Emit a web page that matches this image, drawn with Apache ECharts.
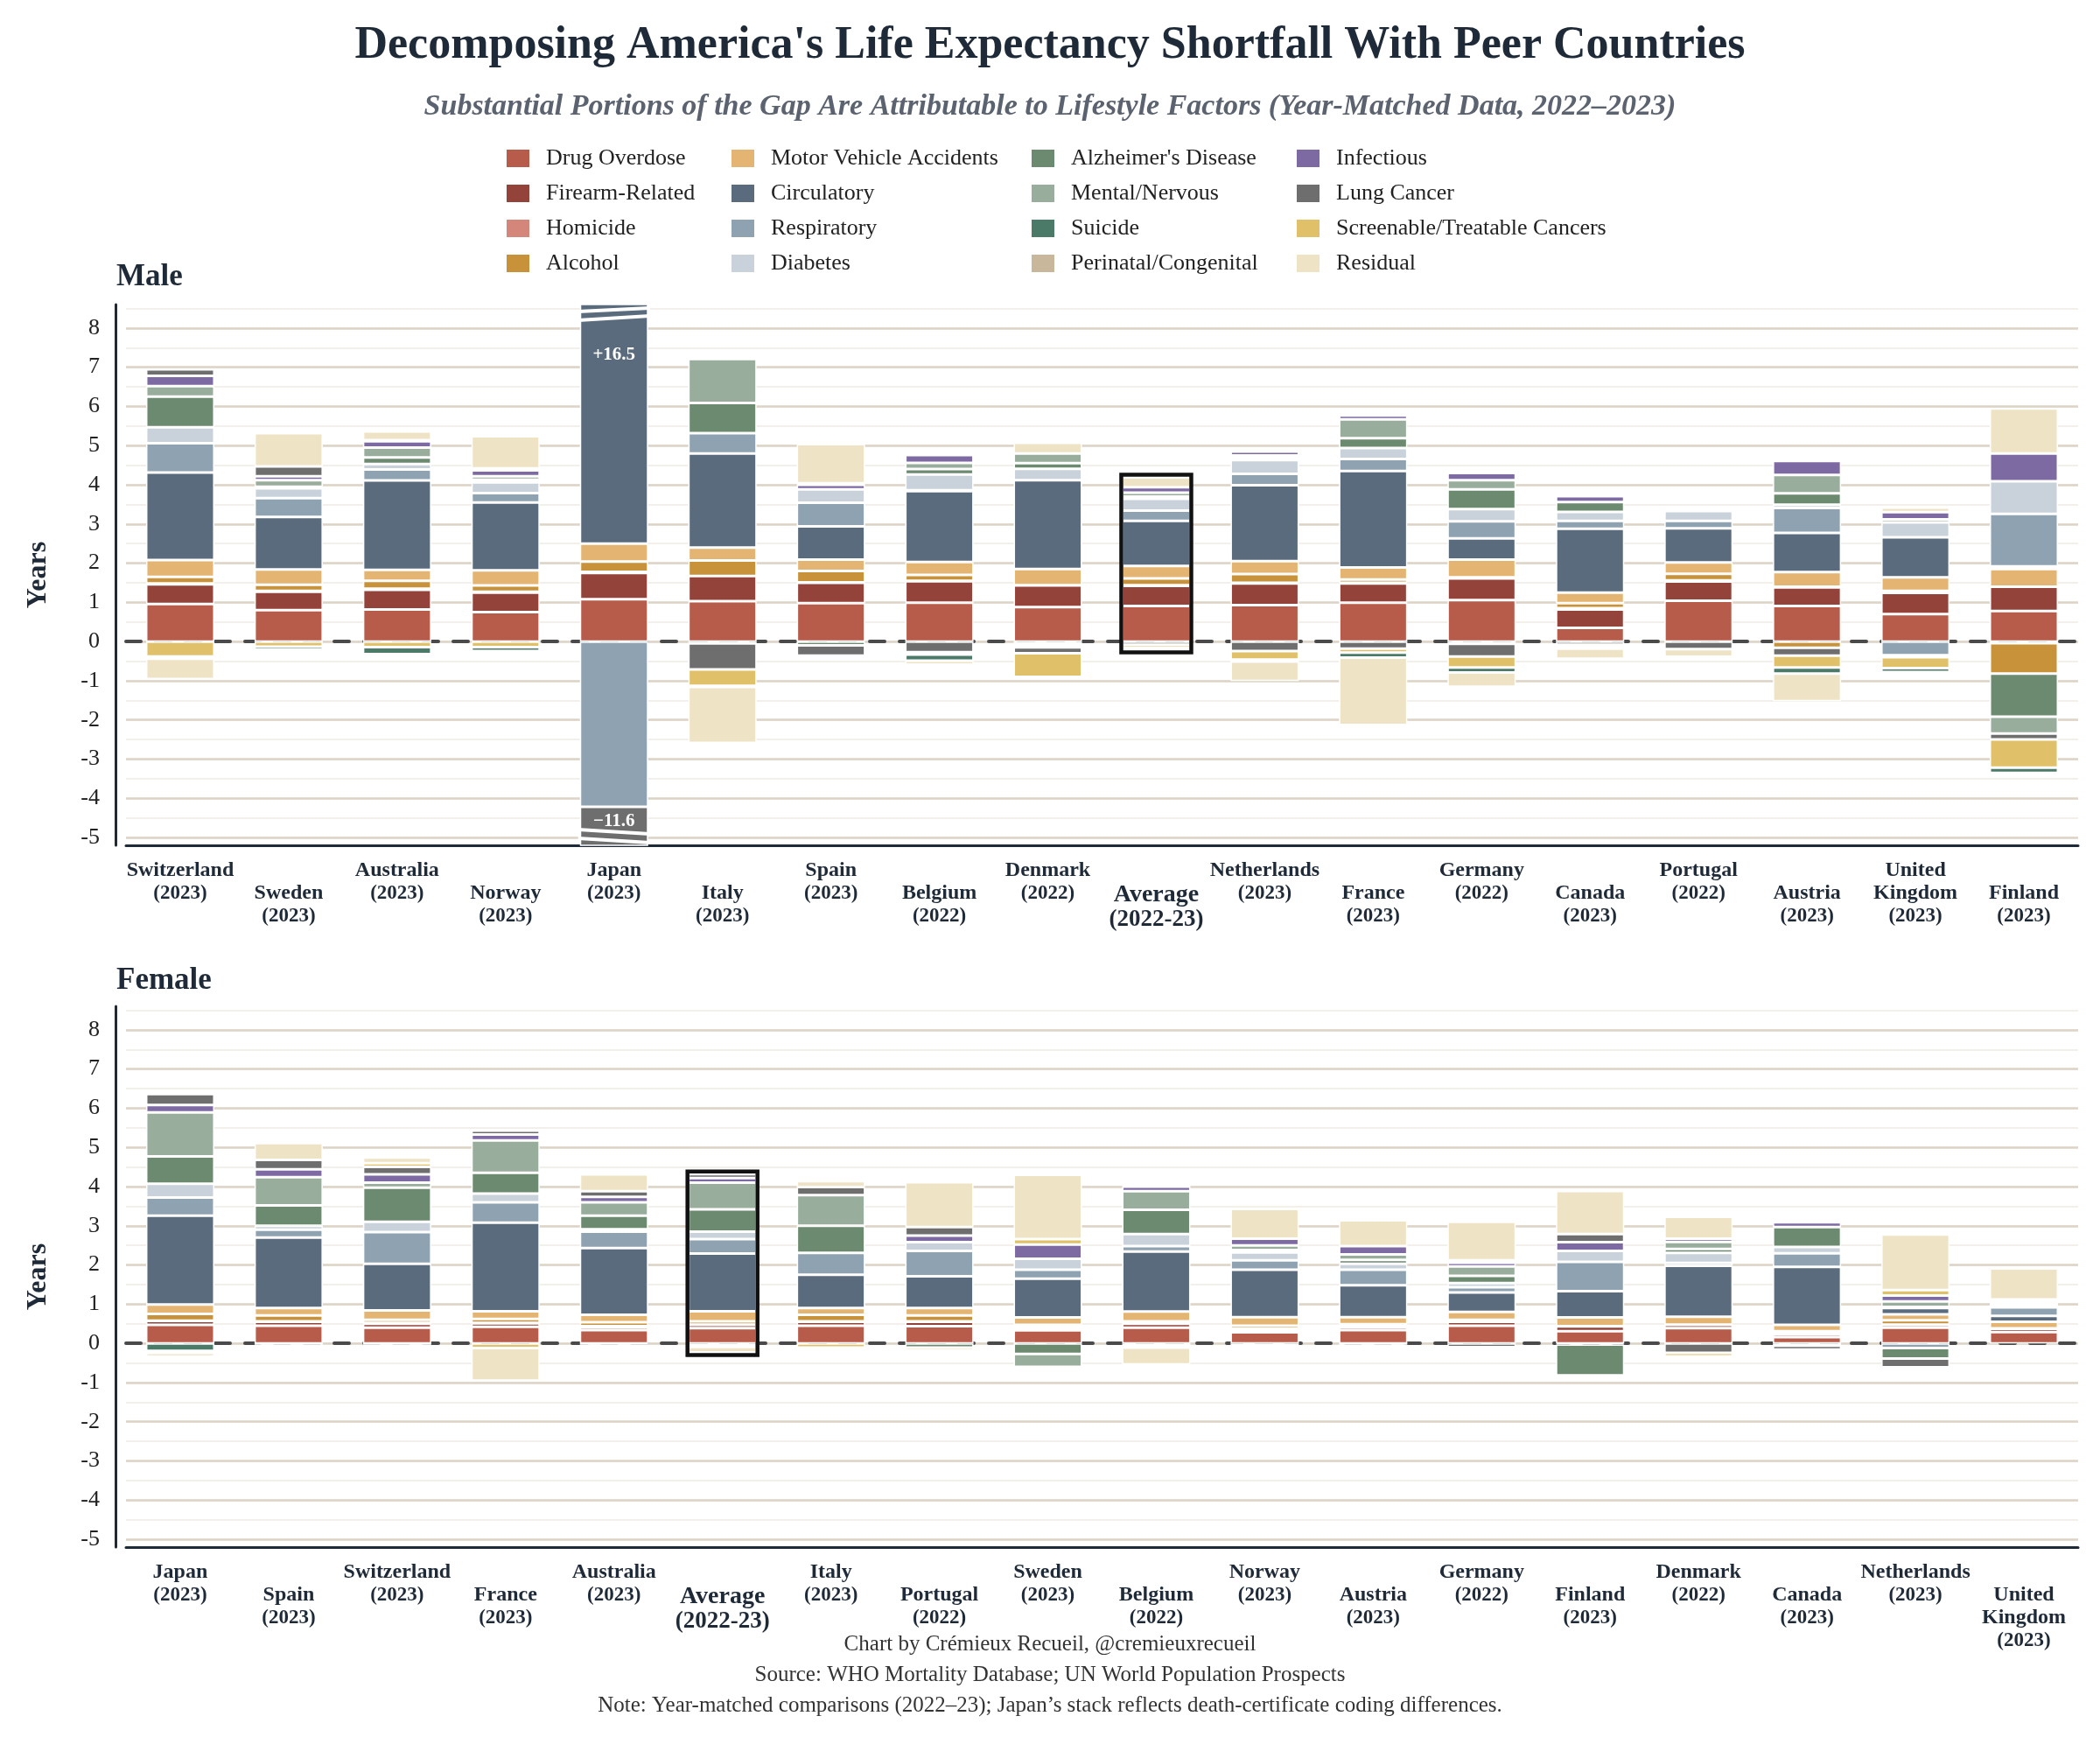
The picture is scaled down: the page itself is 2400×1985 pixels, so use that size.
<!DOCTYPE html>
<html>
<head>
<meta charset="utf-8">
<script src="https://cdn.jsdelivr.net/npm/echarts@6/dist/echarts.min.js"></script>
<style>
  html, body { margin: 0; padding: 0; background: #fff; }
  #chart { width: 2400px; height: 1985px; }
</style>
</head>
<body>
<div id="chart"></div>
<script>
// causes, in stacking order (bottom of each stack first)
var causes = ['Drug Overdose', 'Firearm-Related', 'Homicide', 'Alcohol', 'Motor Vehicle Accidents',
  'Circulatory', 'Respiratory', 'Diabetes', "Alzheimer's Disease", 'Mental/Nervous', 'Infectious',
  'Lung Cancer', 'Screenable/Treatable Cancers', 'Suicide', 'Perinatal/Congenital', 'Residual'];

// legend columns as printed
var legendCols = [
  ['Drug Overdose', 'Firearm-Related', 'Homicide', 'Alcohol'],
  ['Motor Vehicle Accidents', 'Circulatory', 'Respiratory', 'Diabetes'],
  ["Alzheimer's Disease", 'Mental/Nervous', 'Suicide', 'Perinatal/Congenital'],
  ['Infectious', 'Lung Cancer', 'Screenable/Treatable Cancers', 'Residual']
];

// male panel
var maleCountries = ['Switzerland', 'Sweden', 'Australia', 'Norway', 'Japan', 'Italy', 'Spain', 'Belgium', 'Denmark',
  'Average', 'Netherlands', 'France', 'Germany', 'Canada', 'Portugal', 'Austria', 'United Kingdom', 'Finland'];
var maleYears = ['2023', '2023', '2023', '2023', '2023', '2023', '2023', '2022', '2022',
  '2022-23', '2023', '2023', '2022', '2023', '2022', '2023', '2023', '2023'];

// years of gap per cause, same order as causes
var mSwitzerland = [0.96, 0.50, 0.02, 0.17, 0.43, 2.23, 0.75, 0.41, 0.78, 0.27, 0.26, 0.17, -0.38, -0.06, 0, -0.52];
var mSweden      = [0.80, 0.47, 0.02, 0.16, 0.39, 1.34, 0.48, 0.25, 0.04, 0.17, 0.10, 0.25, -0.13, -0.08, 0, 0.85];
var mAustralia   = [0.82, 0.50, 0.03, 0.20, 0.28, 2.28, 0.28, 0.14, 0.17, 0.25, 0.16, 0.03, -0.14, -0.18, 0, 0.22];
var mNorway      = [0.75, 0.50, 0.02, 0.16, 0.39, 1.73, 0.24, 0.27, 0.07, 0.09, 0.15, 0.05, -0.14, -0.10, 0, 0.82];
var mJapan       = [1.08, 0.67, 0.03, 0.26, 0.46, 14.00, -4.22, 0, 0, 0, 0, -7.00, 0, -0.38, 0, 0];
var mItaly       = [1.03, 0.64, -0.05, 0.40, 0.33, 2.40, 0.52, 0, 0.77, 1.12, 0, -0.66, -0.42, -0.03, 0, -1.43];
var mSpain       = [0.98, 0.52, 0.01, 0.29, 0.29, 0.85, 0.60, 0.34, -0.10, 0, 0.12, -0.26, 0.04, 0, 0, 1.00];
var mBelgium     = [0.99, 0.55, 0.01, 0.15, 0.33, 1.81, 0.02, 0.40, 0.14, 0.16, 0.20, -0.27, -0.06, -0.16, 0, -0.10];
var mDenmark     = [0.88, 0.55, 0.01, -0.05, 0.41, 2.27, -0.06, 0.29, 0.14, 0.25, -0.04, -0.15, -0.60, -0.03, 0, 0.27];
var mAverage     = [0.91, 0.51, 0.02, 0.17, 0.32, 1.15, 0.26, 0.30, 0.06, 0.10, 0.14, -0.08, -0.08, -0.05, 0, 0.25];
var mNetherlands = [0.93, 0.55, 0.02, 0.22, 0.33, 1.94, 0.29, 0.35, 0.07, 0.05, 0.10, -0.24, -0.22, -0.05, 0, -0.50];
var mFrance      = [0.99, 0.49, 0.02, 0.08, 0.31, 2.46, 0.31, 0.28, 0.25, 0.48, 0.10, -0.18, -0.10, -0.13, 0, -1.72];
var mGermany     = [1.06, 0.55, 0.03, -0.06, 0.45, 0.54, 0.44, 0.31, 0.50, 0.24, 0.18, -0.32, -0.28, -0.13, 0.04, -0.36];
var mCanada      = [0.35, 0.47, 0.03, 0.13, 0.27, 1.63, 0.20, 0.23, 0.25, 0, 0.15, -0.08, -0.06, -0.04, 0, -0.26];
var mPortugal    = [1.04, 0.49, 0.03, 0.17, 0.29, 0.87, 0.19, 0.25, 0, 0, 0.06, -0.19, 0, 0, 0.05, -0.20];
var mAustria     = [0.91, 0.47, 0.02, -0.16, 0.37, 1.00, 0.64, 0.08, 0.29, 0.47, 0.36, -0.20, -0.30, -0.16, 0, -0.70];
var mUK          = [0.70, 0.54, 0.05, 0, 0.35, 1.02, -0.35, 0.38, 0, 0.08, 0.18, -0.05, -0.28, -0.10, 0, 0.12];
var mFinland     = [0.78, 0.62, -0.04, -0.78, 0.45, 0.07, 1.34, 0.83, -1.10, -0.43, 0.71, -0.15, -0.72, -0.13, -0.06, 1.15];

// female panel
var femaleCountries = ['Japan', 'Spain', 'Switzerland', 'France', 'Australia', 'Average', 'Italy', 'Portugal', 'Sweden',
  'Belgium', 'Norway', 'Austria', 'Germany', 'Finland', 'Denmark', 'Canada', 'Netherlands', 'United Kingdom'];
var femaleYears = ['2023', '2023', '2023', '2023', '2023', '2022-23', '2023', '2022', '2023',
  '2022', '2023', '2023', '2022', '2023', '2022', '2023', '2023', '2023'];

var fJapan       = [0.47, 0.10, 0.01, 0.17, 0.24, 2.27, 0.46, 0.35, 0.70, 1.12, 0.19, 0.28, 0, -0.19, -0.05, -0.10];
var fSpain       = [0.45, 0.10, 0.01, 0.15, 0.19, 1.80, 0.20, 0.10, 0.52, 0.72, 0.20, 0.24, 0, -0.02, 0, 0.43];
var fSwitzerland = [0.40, 0.10, 0.02, 0.08, 0.24, 1.19, 0.81, 0.26, 0.87, 0.13, 0.21, 0.19, 0.10, -0.02, 0, 0.14];
var fFrance      = [0.42, 0.09, 0.01, 0.10, 0.20, 2.26, 0.52, 0.22, 0.53, 0.83, 0.15, 0.10, -0.12, 0, 0, -0.83];
var fAustralia   = [0.34, 0.07, 0.03, 0.10, 0.19, 1.70, 0.42, 0.06, 0.35, 0.34, 0.14, 0.14, 0, -0.02, 0, 0.43];
var fAverage     = [0.39, 0.08, 0.01, 0.08, 0.26, 1.47, 0.37, 0.19, 0.57, 0.68, 0.12, 0.10, -0.05, -0.04, 0, -0.14];
var fItaly       = [0.45, 0.10, 0.01, 0.17, 0.17, 0.85, 0.56, 0, 0.69, 0.78, 0, 0.21, -0.11, 0, 0, 0.15];
var fPortugal    = [0.44, 0.11, 0.01, 0.15, 0.19, 0.81, 0.65, 0.22, -0.11, 0, 0.17, 0.22, -0.07, 0, 0, 1.14];
var fSweden      = [0.33, 0.07, 0.03, 0.04, 0.19, 0.99, 0.23, 0.28, -0.27, -0.33, 0.36, 0, 0.14, -0.03, 0, 1.64];
var fBelgium     = [0.40, 0.10, 0.01, 0.05, 0.25, 1.53, 0.14, 0.31, 0.62, 0.47, 0.12, 0.04, -0.05, -0.06, 0, -0.43];
var fNorway      = [0.28, 0.07, 0.02, 0.08, 0.22, 1.21, 0.24, 0.20, 0.06, 0.12, 0.17, 0, -0.04, -0.03, 0, 0.76];
var fAustria     = [0.34, 0.07, 0.02, 0.06, 0.18, 0.81, 0.40, 0.15, 0.10, 0.14, 0.21, 0, 0, -0.02, 0, 0.66];
var fGermany     = [0.45, 0.10, 0.01, 0.04, 0.20, 0.50, 0.13, 0.11, 0.18, 0.24, 0.10, -0.10, 0.06, 0, 0, 0.98];
var fFinland     = [0.31, 0.12, 0.01, -0.03, 0.22, 0.67, 0.75, 0.28, -0.79, 0, 0.22, 0.21, 0, -0.06, 0, 1.10];
var fDenmark     = [0.39, 0.08, 0.01, 0, 0.20, 1.30, 0.07, 0.26, 0.10, 0.18, 0.08, -0.24, -0.09, 0, 0, 0.56];
var fCanada      = [0.16, 0.07, 0.04, 0.04, 0.16, 1.48, 0.35, 0.16, 0.51, -0.06, 0.12, -0.10, -0.05, -0.04, -0.04, 0];
var fNetherlands = [0.40, 0.07, 0.01, 0.11, 0.15, 0.16, -0.12, 0.03, -0.27, 0.14, 0.15, -0.22, 0.14, 0, 0, 1.42];
var fUK          = [0.29, 0.08, 0.01, 0, 0.17, 0.15, 0.22, 0.04, 0, 0.05, 0.06, 0, 0.05, 0, 0, 0.79];

var maleRows = [mSwitzerland, mSweden, mAustralia, mNorway, mJapan, mItaly, mSpain, mBelgium, mDenmark,
  mAverage, mNetherlands, mFrance, mGermany, mCanada, mPortugal, mAustria, mUK, mFinland];
var femaleRows = [fJapan, fSpain, fSwitzerland, fFrance, fAustralia, fAverage, fItaly, fPortugal, fSweden,
  fBelgium, fNorway, fAustria, fGermany, fFinland, fDenmark, fCanada, fNetherlands, fUK];

// y range shown
var Y_MIN = -5.2, Y_MAX = 8.6;

// styling
var palette = {
  'Drug Overdose': '#b75b4b', 'Firearm-Related': '#94433a', 'Homicide': '#d4867b', 'Alcohol': '#c8923b',
  'Motor Vehicle Accidents': '#e4b473', 'Circulatory': '#5b6b7e', 'Respiratory': '#8fa2b2', 'Diabetes': '#c9d2da',
  "Alzheimer's Disease": '#6c8a70', 'Mental/Nervous': '#98ad9b', 'Suicide': '#4b7a69', 'Perinatal/Congenital': '#c9b79b',
  'Infectious': '#7e6aa3', 'Lung Cancer': '#6e6e6e', 'Screenable/Treatable Cancers': '#e0c069', 'Residual': '#efe3c6'
};
var FONT = "'Liberation Serif', 'DejaVu Serif', serif";
var INK = '#1e2a38';
var BAR_W = 78;
var GRID_LEFT = 144, GRID_RIGHT = 25;
var panels = [
  { rows: maleRows, names: maleCountries, years: maleYears, top: 348 },
  { rows: femaleRows, names: femaleCountries, years: femaleYears, top: 1150 }
];

function sumSign(row, positive) {
  var s = 0;
  row.forEach(function (v) { if (positive ? v > 0 : v < 0) s += v; });
  return s;
}

function labelFormatter(names, years) {
  return function (value, i) {
    var avg = names[i] === 'Average';
    var lines = names[i].split(' ').map(function (w) { return '{' + (avg ? 'an' : 'n') + '|' + w + '}'; });
    lines.push('{' + (avg ? 'ay' : 'y') + '|(' + years[i] + ')}');
    if (i % 2 === 1) lines.unshift('{sp| }');
    return lines.join('\n');
  };
}

var grids = [], xAxes = [], yAxes = [], series = [];

panels.forEach(function (p, g) {
  grids.push({ left: GRID_LEFT, right: GRID_RIGHT, top: p.top, height: 618 });

  // bottom axis with country labels
  xAxes.push({
    type: 'category', gridIndex: g, data: p.names, boundaryGap: true,
    axisLine: { onZero: false, lineStyle: { color: INK, width: 3 } },
    axisTick: { show: false }, splitLine: { show: false },
    axisLabel: {
      interval: 0, margin: 16, color: INK, fontFamily: FONT, lineHeight: 26,
      formatter: labelFormatter(p.names, p.years),
      rich: {
        n: { fontSize: 24, fontWeight: 'bold', lineHeight: 26, color: INK, fontFamily: FONT },
        y: { fontSize: 23, fontWeight: 'bold', lineHeight: 26, color: INK, fontFamily: FONT },
        an: { fontSize: 28, fontWeight: 'bold', lineHeight: 29, color: INK, fontFamily: FONT },
        ay: { fontSize: 27, fontWeight: 'bold', lineHeight: 29, color: INK, fontFamily: FONT },
        sp: { fontSize: 12, lineHeight: 26 }
      }
    }
  });
  // dashed zero line
  xAxes.push({
    type: 'category', gridIndex: g, data: p.names, position: 'top', z: 1,
    axisLine: { onZero: true, lineStyle: { color: '#4a4a4a', width: 4, type: [17, 17] } },
    axisTick: { show: false }, axisLabel: { show: false }, splitLine: { show: false }
  });

  yAxes.push({
    type: 'value', gridIndex: g, min: Y_MIN, max: Y_MAX, minInterval: 1, maxInterval: 1, splitNumber: 14,
    offset: 12, z: 1,
    name: 'Years', nameLocation: 'middle', nameGap: 72,
    nameTextStyle: { fontFamily: FONT, fontSize: 32, fontWeight: 'bold', color: INK },
    axisLine: { show: true, onZero: false, lineStyle: { color: INK, width: 3 } },
    axisTick: { show: false },
    axisLabel: {
      margin: 18, fontSize: 26, color: '#222', fontFamily: FONT,
      formatter: function (v) { return Math.abs(v - Math.round(v)) < 1e-6 ? String(Math.round(v)) : ''; }
    },
    splitLine: { show: true, showMinLine: false, showMaxLine: false, lineStyle: { color: '#ddd3c6', width: 2.5 } }
  });
  // half-year grid lines
  yAxes.push({
    type: 'value', gridIndex: g, min: Y_MIN, max: Y_MAX, minInterval: 0.5, maxInterval: 0.5, splitNumber: 28, z: 0,
    axisLine: { show: false, onZero: false }, axisTick: { show: false }, axisLabel: { show: false },
    splitLine: { show: true, showMinLine: false, showMaxLine: false, lineStyle: { color: '#efebe6', width: 1.5 } }
  });

  var posTotals = p.rows.map(function (r) { return sumSign(r, true); });
  var negTotals = p.rows.map(function (r) { return sumSign(r, false); });

  causes.forEach(function (cause, c) {
    series.push({
      type: 'bar', name: cause, xAxisIndex: g * 2, yAxisIndex: g * 2, stack: 'gap' + g,
      barWidth: BAR_W, animation: false, silent: true,
      itemStyle: { color: palette[cause], borderColor: '#fff', borderWidth: 1.5 },
      data: p.rows.map(function (r, i) {
        var v = r[c];
        // the segment that crosses the axis limit carries the hidden stack total
        var below = 0;
        for (var k = 0; k < c; k++) if ((v > 0 && r[k] > 0) || (v < 0 && r[k] < 0)) below += r[k];
        if (v > 0 && posTotals[i] > Y_MAX && below < Y_MAX && below + v > Y_MAX) {
          return { value: v, label: { show: true, position: 'insideTop', distance: 48,
            formatter: '+' + posTotals[i].toFixed(1), color: '#fff', fontSize: 21, fontWeight: 'bold', fontFamily: FONT } };
        }
        if (v < 0 && negTotals[i] < Y_MIN && below > Y_MIN && below + v < Y_MIN) {
          return { value: v, label: { show: true, position: 'insideTop', distance: 6,
            formatter: '\u2212' + Math.abs(negTotals[i]).toFixed(1), color: '#fff', fontSize: 21, fontWeight: 'bold', fontFamily: FONT } };
        }
        return v;
      })
    });
  });

  // black frame round the Average stack
  var avgIdx = p.names.indexOf('Average');
  series.push({
    type: 'custom', xAxisIndex: g * 2, yAxisIndex: g * 2, silent: true, animation: false, z: 6,
    data: [[avgIdx, negTotals[avgIdx], posTotals[avgIdx]]],
    renderItem: function (params, api) {
      var x = api.value(0);
      var top = api.coord([x, api.value(2)]);
      var bot = api.coord([x, api.value(1)]);
      var half = BAR_W / 2 + 1;
      return {
        type: 'rect',
        shape: { x: top[0] - half, y: top[1] - 3, width: half * 2, height: bot[1] - top[1] + 6 },
        style: { fill: 'none', stroke: '#111', lineWidth: 4.5 }
      };
    }
  });

  // break marks on stacks that run past the axis
  var broken = [];
  p.rows.forEach(function (r, i) { if (posTotals[i] > Y_MAX || negTotals[i] < Y_MIN) broken.push([i]); });
  if (broken.length) {
    series.push({
      type: 'custom', xAxisIndex: g * 2, yAxisIndex: g * 2, silent: true, animation: false, z: 6, clip: false,
      data: broken,
      renderItem: function (params, api) {
        var x = api.value(0);
        var t = api.coord([x, Y_MAX]);
        var b = api.coord([x, Y_MIN]);
        var L = t[0] - BAR_W / 2 - 2, R = t[0] + BAR_W / 2 + 2;
        var band = function (y0, y1) {
          return { type: 'polygon', shape: { points: [[L, y0], [R, y1], [R, y1 + 4], [L, y0 + 4]] }, style: { fill: '#fff' } };
        };
        return {
          type: 'group',
          children: [
            band(t[1] + 6, t[1] + 2), band(t[1] + 16, t[1] + 11),
            band(b[1] - 20, b[1] - 15), band(b[1] - 10, b[1] - 5)
          ]
        };
      }
    });
  }
});

var legendX = [574, 831, 1174, 1477];

var option = {
  backgroundColor: '#fff',
  animation: false,
  textStyle: { fontFamily: FONT },
  title: [
    { text: "Decomposing America's Life Expectancy Shortfall With Peer Countries", left: 'center', top: 22,
      textStyle: { fontFamily: FONT, fontSize: 52, fontWeight: 'bold', color: INK } },
    { text: 'Substantial Portions of the Gap Are Attributable to Lifestyle Factors (Year-Matched Data, 2022\u20132023)',
      left: 'center', top: 100,
      textStyle: { fontFamily: FONT, fontSize: 34, fontWeight: 'bold', fontStyle: 'italic', color: '#5c6370' } },
    { text: 'Male', left: 128, top: 294, textStyle: { fontFamily: FONT, fontSize: 35, fontWeight: 'bold', color: INK } },
    { text: 'Female', left: 128, top: 1098, textStyle: { fontFamily: FONT, fontSize: 35, fontWeight: 'bold', color: INK } },
    { text: 'Chart by Cr\u00e9mieux Recueil, @cremieuxrecueil', left: 'center', top: 1862,
      textStyle: { fontFamily: FONT, fontSize: 25, fontWeight: 'normal', color: '#333' } },
    { text: 'Source: WHO Mortality Database; UN World Population Prospects', left: 'center', top: 1897,
      textStyle: { fontFamily: FONT, fontSize: 25, fontWeight: 'normal', color: '#333' } },
    { text: 'Note: Year-matched comparisons (2022\u201323); Japan\u2019s stack reflects death-certificate coding differences.',
      left: 'center', top: 1932,
      textStyle: { fontFamily: FONT, fontSize: 25, fontWeight: 'normal', color: '#333' } }
  ],
  legend: legendCols.map(function (col, k) {
    return {
      data: col, orient: 'vertical', left: legendX[k], top: 163, padding: 5,
      itemWidth: 26, itemHeight: 20, itemGap: 14, icon: 'rect', selectedMode: false,
      itemStyle: { borderWidth: 0 },
      textStyle: { fontFamily: FONT, fontSize: 26, lineHeight: 20, color: '#222', padding: [0, 0, 0, 14] }
    };
  }),
  grid: grids,
  xAxis: xAxes,
  yAxis: yAxes,
  series: series
};

var chart = echarts.init(document.getElementById('chart'), null, { renderer: 'canvas' });
chart.setOption(option);
</script>
</body>
</html>
